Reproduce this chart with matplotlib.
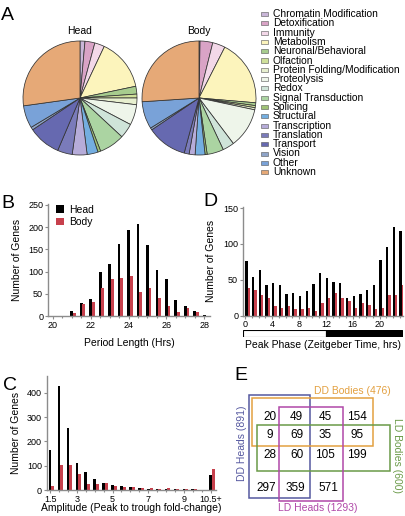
import numpy as np
import matplotlib.pyplot as plt
from matplotlib.patches import Rectangle
from matplotlib.ticker import MultipleLocator

plt.rcParams['font.family'] = ['Liberation Sans', 'DejaVu Sans']

#%% Data
categories = ['Chromatin Modification', 'Detoxification', 'Immunity', 'Metabolism',
              'Neuronal/Behavioral', 'Olfaction', 'Protein Folding/Modification',
              'Proteolysis', 'Redox', 'Signal Transduction', 'Splicing', 'Structural',
              'Transcription', 'Translation', 'Transport', 'Vision', 'Other', 'Unknown']
cat_colors = ['#c9b6d8', '#d9a3c6', '#f3d8e8', '#fcf4bc', '#a7cc8e', '#cfe09a',
              '#e7efcf', '#eef5ea', '#cfe4d9', '#abd4a2', '#9fc276', '#74aee0',
              '#b6acd9', '#7a7bba', '#6669b0', '#8ea4c8', '#79a2d8', '#e6a977']
head_pct = [1.4, 2.8, 2.8, 14.7, 2.2, 1.1, 1.9, 5.8, 4.2, 7.2, 0.8, 3.1,
            4.2, 4.2, 9.2, 0.8, 6.4, 27.2]
body_pct = [0.3, 3.6, 3.6, 18.9, 0.8, 0.6, 0.6, 11.4, 3.3, 4.7, 0.6, 2.8,
            1.7, 1.4, 11.4, 0.6, 7.8, 26.1]

period = [21, 21.5, 22, 22.5, 23, 23.5, 24, 24.5, 25, 25.5, 26, 26.5, 27, 27.5, 28]
period_head = [11, 30, 39, 100, 117, 162, 193, 206, 159, 104, 83, 37, 22, 11, 3]
period_body = [7, 28, 31, 62, 83, 86, 89, 54, 62, 40, 22, 9, 18, 8, 1]

amp_bins = [1.5, 2, 2.5, 3, 3.5, 4, 4.5, 5, 5.5, 6, 6.5, 7, 7.5, 8, 8.5, 9, 9.5, 10, 10.5]
amp_head = [164, 430, 256, 110, 75, 44, 27, 21, 18, 11, 7, 5, 5, 4, 3, 4, 3, 2, 62]
amp_body = [18, 105, 103, 66, 25, 23, 27, 16, 14, 12, 7, 7, 4, 7, 4, 3, 3, 1, 85]
amp_ticks = [1.5, 3, 5, 7, 9, 10.5]
amp_ticklabels = ['1.5', '3', '5', '7', '9', '10.5+']

zt = list(range(24))
phase_head = [76, 54, 64, 42, 45, 42, 30, 32, 27, 34, 44, 60, 53, 47, 45, 24,
              27, 30, 36, 42, 77, 96, 124, 118]
phase_body = [38, 35, 29, 24, 13, 10, 13, 9, 9, 11, 6, 18, 24, 31, 24, 20,
              11, 17, 15, 9, 11, 29, 29, 42]

# overlap counts, rows top to bottom
overlap_rows = [[20, 49, 45, 154],
                [9, 69, 35, 95],
                [28, 60, 105, 199],
                [297, 359, 571]]
set_names = ['DD Heads (891)', 'DD Bodies (476)', 'LD Bodies (600)', 'LD Heads (1293)']
set_colors = ['#55589f', '#e3a040', '#6a9a48', '#b048a8']

#%% Settings
W, H = 406, 516
red = '#c7404c'
spine_col = '#8c8c8c'
tick_fs = 6.5
lab_fs = 7.5

fig = plt.figure(figsize=(W / 100, H / 100), dpi=100)


def px_rect(x0, y0, x1, y1):
    # pixel box (top-left origin) -> figure fraction
    return [x0 / W, 1 - y1 / H, (x1 - x0) / W, (y1 - y0) / H]


def style_axes(ax):
    for s in ['top', 'right']:
        ax.spines[s].set_visible(False)
    for s in ['left', 'bottom']:
        ax.spines[s].set_color(spine_col)
        ax.spines[s].set_linewidth(1.0)
    ax.tick_params(which='both', colors=spine_col, labelcolor='black',
                   labelsize=tick_fs, length=2, width=0.8, pad=1.5)
    ax.tick_params(which='minor', length=1.5)


#%% A: pies
def draw_pie(cx, cy, r, shares, title):
    ax = fig.add_axes(px_rect(cx - r * 1.02, cy - r * 1.02, cx + r * 1.02, cy + r * 1.02))
    ax.pie(shares, colors=cat_colors, startangle=90, counterclock=False,
           wedgeprops=dict(edgecolor='#333333', linewidth=0.55))
    ax.set_xlim(-1.02, 1.02)
    ax.set_ylim(-1.02, 1.02)
    ax.set_title(title, fontsize=lab_fs, pad=4)


draw_pie(80, 98, 57, head_pct, 'Head')
draw_pie(199, 98, 57, body_pct, 'Body')

for i, (name, col) in enumerate(zip(categories, cat_colors)):
    y = 14 + i * 9.3
    fig.patches.append(Rectangle((261 / W, 1 - (y + 2) / H), 7 / W, 4 / H,
                                 transform=fig.transFigure, facecolor=col,
                                 edgecolor='#555555', linewidth=0.4))
    fig.text(273 / W, 1 - y / H, name, fontsize=7.4, va='center', ha='left')

#%% B: period length
ax_b = fig.add_axes(px_rect(48, 204, 210, 316))
p = np.array(period)
ax_b.bar(p, period_head, width=0.15, color='black', label='Head')
ax_b.bar(p + 0.14, period_body, width=0.14, color=red, label='Body')
ax_b.set_xlim(19.75, 28.3)
ax_b.set_ylim(0, 252)
ax_b.set_xticks([20, 22, 24, 26, 28])
ax_b.xaxis.set_minor_locator(MultipleLocator(0.5))
ax_b.set_yticks([0, 50, 100, 150, 200, 250])
style_axes(ax_b)
ax_b.set_xlabel('Period Length (Hrs)', fontsize=lab_fs)
ax_b.xaxis.set_label_coords(0.5, -0.2)
ax_b.set_ylabel('Number of Genes', fontsize=lab_fs)
ax_b.yaxis.set_label_coords(-0.16, 0.5)
ax_b.legend(loc='upper left', bbox_to_anchor=(0.02, 1.04), frameon=False,
            fontsize=lab_fs, handlelength=0.7, handleheight=0.7,
            handletextpad=0.5, labelspacing=0.25, borderpad=0)

#%% D: peak phase
ax_d = fig.add_axes(px_rect(243, 207.3, 403, 315.5))
z = np.array(zt)
ax_d.bar(z + 0.15, phase_head, width=0.35, color='black')
ax_d.bar(z + 0.5, phase_body, width=0.35, color=red)
ax_d.set_xlim(-0.35, 23.5)
ax_d.set_ylim(0, 151)
ax_d.set_xticks([0, 4, 8, 12, 16, 20])
ax_d.xaxis.set_minor_locator(MultipleLocator(1))
ax_d.set_yticks([0, 50, 100, 150])
style_axes(ax_d)
ax_d.set_ylabel('Number of Genes', fontsize=lab_fs)
ax_d.yaxis.set_label_coords(-0.17, 0.5)

# light/dark bar under D
ax_ld = fig.add_axes(px_rect(243, 330, 403, 337))
ax_ld.set_xlim(-0.35, 23.5)
ax_ld.set_ylim(0, 1)
ax_ld.add_patch(Rectangle((-0.3, 0), 12.3, 1, facecolor='white', edgecolor='black', linewidth=0.8))
ax_ld.add_patch(Rectangle((12, 0), 11.3, 1, facecolor='black', edgecolor='black', linewidth=0.8))
ax_ld.axis('off')
ax_ld.text(0.5, -0.45, 'Peak Phase (Zeitgeber Time, hrs)', transform=ax_ld.transAxes,
           ha='center', va='top', fontsize=lab_fs)

#%% C: amplitude
ax_c = fig.add_axes(px_rect(46.7, 376, 216, 490))
a = np.array(amp_bins)
ax_c.bar(a, amp_head, width=0.15, color='black')
ax_c.bar(a + 0.16, amp_body, width=0.17, color=red)
ax_c.set_xlim(1.31, 10.8)
ax_c.set_ylim(0, 470)
ax_c.set_xticks(amp_ticks)
ax_c.set_xticklabels(amp_ticklabels)
ax_c.xaxis.set_minor_locator(MultipleLocator(0.5))
ax_c.set_yticks([0, 100, 200, 300, 400])
style_axes(ax_c)
ax_c.set_xlabel('Amplitude (Peak to trough fold-change)', fontsize=lab_fs)
ax_c.xaxis.set_label_coords(0.5, -0.115)
ax_c.set_ylabel('Number of Genes', fontsize=lab_fs)
ax_c.yaxis.set_label_coords(-0.15, 0.5)

#%% E: overlap diagram (drawn in pixel units of the panel)
ax_e = fig.add_axes(px_rect(230, 380, 406, 516))
ax_e.set_xlim(230, 406)
ax_e.set_ylim(516, 380)
ax_e.axis('off')
boxes = [(249, 395, 310, 497.7), (251.7, 397.7, 373.3, 445.7),
         (257.3, 425, 390, 470.7), (279.3, 406.7, 343.3, 500.7)]
for (x0, y0, x1, y1), col in zip(boxes, set_colors):
    ax_e.add_patch(Rectangle((x0, y0), x1 - x0, y1 - y0, fill=False,
                             edgecolor=col, linewidth=1.1))
col_x = [270, 296.7, 325, 356.7]
row_y = [417.3, 435, 455]
for r, yy in enumerate(row_y):
    for c, xx in enumerate(col_x):
        ax_e.text(xx, yy, str(overlap_rows[r][c]), ha='center', va='center', fontsize=8.5)
for xx, v in zip([266.7, 295, 328.3], overlap_rows[3]):
    ax_e.text(xx, 488.3, str(v), ha='center', va='center', fontsize=8.5)
ax_e.text(241.7, 443, set_names[0], rotation=90, color=set_colors[0],
          ha='center', va='center', fontsize=lab_fs)
ax_e.text(352, 391, set_names[1], color=set_colors[1], ha='center', va='center',
          fontsize=lab_fs)
ax_e.text(396.7, 455, set_names[2], rotation=270, color=set_colors[2],
          ha='center', va='center', fontsize=lab_fs)
ax_e.text(318, 508, set_names[3], color=set_colors[3], ha='center', va='center',
          fontsize=lab_fs)

#%% Panel letters
for letter, (x, y) in zip('ABCDE', [(7, 15), (8, 204), (10, 385), (210, 202), (241, 376)]):
    fig.text(x / W, 1 - y / H, letter, fontsize=14, ha='center', va='center')

fig.savefig('out.png', dpi=100)
